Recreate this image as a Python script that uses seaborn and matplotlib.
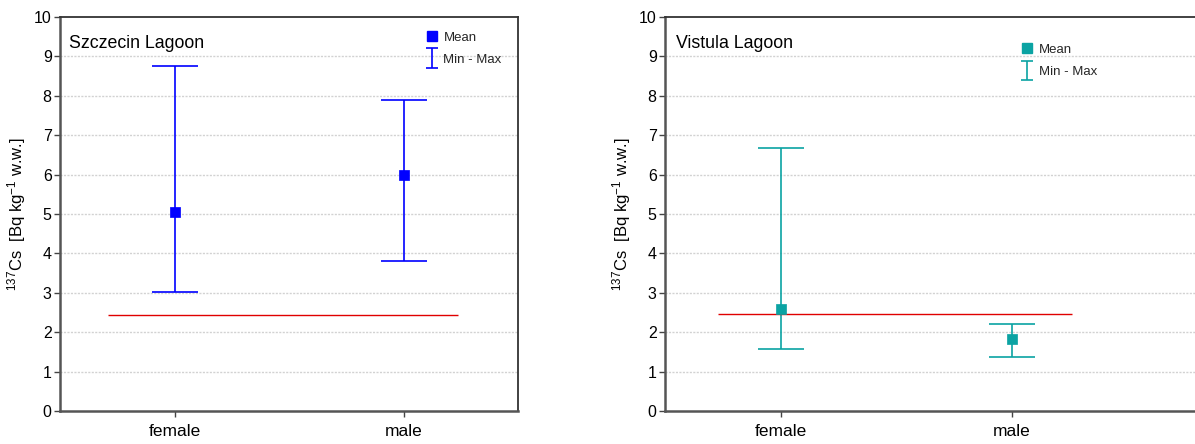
import matplotlib
matplotlib.use("Agg")
import numpy as np
import matplotlib.pyplot as plt
import seaborn as sns
from matplotlib.lines import Line2D
from matplotlib.legend_handler import HandlerErrorbar

sns.set_theme(style='white', rc={'axes.grid': False})
plt.rcParams['font.family'] = ['Liberation Sans', 'DejaVu Sans']
plt.rcParams['mathtext.default'] = 'regular'

# data
categories = ['female', 'male']
positions = [0, 1]

szczecin_mean = [5.05, 6.00]
szczecin_min = [3.03, 3.80]
szczecin_max = [8.75, 7.90]
szczecin_ref = 2.43
szczecin_ref_span = (-0.29, 1.24)

vistula_mean = [2.60, 1.83]
vistula_min = [1.58, 1.38]
vistula_max = [6.68, 2.20]
vistula_ref = 2.47
vistula_ref_span = (-0.27, 1.26)

fig = plt.figure(figsize=(11.95, 4.44), dpi=100)
ax1 = fig.add_axes([60 / 1195, 33 / 444, 458 / 1195, 394 / 444])
ax2 = fig.add_axes([665 / 1195, 33 / 444, 535 / 1195, 394 / 444])

panels = [
    (ax1, 'Szczecin Lagoon', szczecin_mean, szczecin_min, szczecin_max,
     szczecin_ref, szczecin_ref_span, '#0000ff', (-0.5, 1.5), (0.797, 0.963)),
    (ax2, 'Vistula Lagoon', vistula_mean, vistula_min, vistula_max,
     vistula_ref, vistula_ref_span, '#0ba3a3', (-0.5, 1.816), (0.665, 0.932)),
]

for ax, title, mean, vmin, vmax, ref, span, color, xlim, leg_pos in panels:
    ax.set_axisbelow(True)
    for yv in range(1, 10):
        ax.axhline(yv, color='#d2d2d2', lw=1, ls=(0, (1.5, 1)), zorder=0)

    err = [[m - lo for m, lo in zip(mean, vmin)],
           [hi - m for m, hi in zip(mean, vmax)]]
    ax.errorbar(positions, mean, yerr=err, fmt='none', ecolor=color,
                elinewidth=1.2, capsize=16.5, capthick=1.2, zorder=2)
    ax.hlines(ref, span[0], span[1], color='#e00000', lw=1.0, zorder=3)
    sns.scatterplot(x=positions, y=mean, ax=ax, marker='s', s=50,
                    color=color, edgecolor=color, linewidth=0.5, zorder=4,
                    legend=False)

    ax.set_xlim(*xlim)
    ax.set_ylim(0, 10)
    ax.set_yticks(range(0, 11))
    ax.set_xticks(positions)
    ax.set_xticklabels(categories, fontsize=12.5)
    ax.tick_params(axis='y', labelsize=11.5, length=4, width=1, color='#444444',
                   left=True, pad=2, labelcolor='black')
    ax.tick_params(axis='x', length=4, width=1, color='#444444', bottom=True,
                   pad=5, labelcolor='black')
    ax.set_ylabel(r'$^{137}$Cs  [Bq kg$^{-1}$ w.w.]', fontsize=12, labelpad=4,
                  color='black')
    ax.set_xlabel('')

    for side in ['left', 'bottom']:
        ax.spines[side].set_color('#555555')
        ax.spines[side].set_linewidth(1.8)
    ax.spines['top'].set_color('#333333')
    ax.spines['top'].set_linewidth(1.3)
    ax.spines['right'].set_color('#333333')
    ax.spines['right'].set_linewidth(1.3)
    if ax is ax2:
        ax.spines['right'].set_visible(False)

    ax.text(0.02, 0.955, title, transform=ax.transAxes, fontsize=12.8,
            ha='left', va='top', color='black')

    # legend-only handles
    mean_handle = Line2D([], [], marker='s', ls='none', color=color,
                         markersize=7)
    range_handle = ax.errorbar([np.nan], [np.nan], yerr=[[0], [0]], fmt='none',
                               ecolor=color, elinewidth=1.2, capsize=4.5,
                               capthick=1.2)
    ax.legend([mean_handle, range_handle], ['Mean', 'Min - Max'],
              loc='upper left', bbox_to_anchor=leg_pos,
              handler_map={type(range_handle): HandlerErrorbar(yerr_size=0.75)},
              frameon=False, fontsize=9.5, handlelength=1.0, handletextpad=0.4,
              labelspacing=0.75, borderpad=0, borderaxespad=0)

fig.savefig('out.png', dpi=100)
